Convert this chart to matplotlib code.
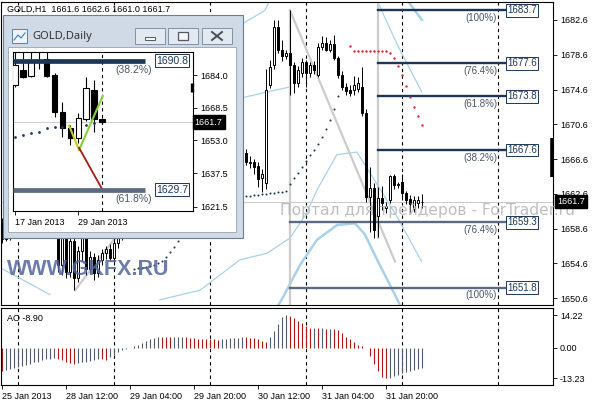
import matplotlib
matplotlib.use("Agg")
import matplotlib.pyplot as plt
from matplotlib.patches import Rectangle
from matplotlib.lines import Line2D
import numpy as np

W, H = 596, 400

# GOLD H1 bars, bar 0 = 25 Jan 2013 20:00
h1_open = [1659.2, 1657.4, 1658.0, 1658.7, 1658.9, 1659.6, 1659.2, 1659.5, 1658.9, 1659.3,
           1658.6, 1658.8, 1658.3, 1658.5, 1658.1, 1654.4, 1657.8, 1653.6, 1657.2, 1652.9,
           1656.0, 1658.0, 1654.0, 1655.3, 1653.5, 1655.0, 1655.8, 1656.2, 1655.2, 1656.9,
           1658.2, 1658.7, 1659.2, 1660.0, 1659.6, 1660.7, 1661.4, 1661.0, 1662.1, 1663.0,
           1663.6, 1663.1, 1662.8, 1663.5, 1664.6, 1665.2, 1664.8, 1664.1, 1663.7, 1664.2,
           1663.9, 1663.4, 1663.6, 1664.7, 1665.8, 1666.4, 1667.1, 1667.8, 1668.3, 1668.0,
           1667.5, 1667.3, 1666.3, 1666.2, 1665.8, 1664.4, 1663.8, 1675.1, 1677.4, 1681.8,
           1679.1, 1678.4, 1678.8, 1677.4, 1675.3, 1676.5, 1677.8, 1676.5, 1677.4, 1676.3,
           1679.5, 1679.9, 1679.2, 1679.8, 1678.2, 1676.3, 1674.9, 1674.6, 1674.5, 1674.7,
           1674.9, 1671.9, 1662.2, 1663.3, 1660.0, 1662.1, 1661.0, 1661.9, 1664.6, 1663.6,
           1664.0, 1662.7, 1662.0, 1660.9, 1661.5, 1661.6]
h1_high = [1659.8, 1658.6, 1659.0, 1659.5, 1660.3, 1660.1, 1659.9, 1660.0, 1659.6, 1659.8,
           1659.2, 1659.4, 1658.9, 1658.8, 1658.6, 1658.2, 1658.1, 1657.9, 1657.9, 1656.6,
           1658.4, 1658.3, 1656.0, 1655.8, 1655.6, 1656.3, 1656.6, 1656.8, 1657.6, 1658.6,
           1659.0, 1659.6, 1660.4, 1660.8, 1661.0, 1661.9, 1662.2, 1662.5, 1663.4, 1664.1,
           1664.4, 1664.0, 1663.9, 1665.0, 1665.8, 1666.0, 1665.4, 1664.9, 1664.6, 1665.1,
           1664.5, 1664.3, 1665.0, 1666.1, 1667.0, 1667.5, 1668.4, 1668.9, 1669.4, 1669.0,
           1668.4, 1667.8, 1666.9, 1666.6, 1666.2, 1665.4, 1677.0, 1678.0, 1682.6, 1682.6,
           1680.3, 1679.2, 1683.7, 1677.8, 1677.3, 1678.2, 1678.0, 1677.8, 1677.9, 1679.9,
           1680.7, 1680.6, 1680.3, 1680.9, 1678.5, 1676.7, 1675.3, 1675.1, 1676.1, 1676.0,
           1677.2, 1672.3, 1665.7, 1663.8, 1663.4, 1663.5, 1661.6, 1664.8, 1664.9, 1663.9,
           1664.9, 1662.9, 1662.5, 1662.3, 1662.4, 1662.6]
h1_low = [1656.9, 1657.2, 1657.3, 1658.1, 1658.4, 1658.8, 1658.6, 1658.7, 1658.2, 1658.4,
          1657.9, 1658.1, 1657.7, 1657.8, 1653.6, 1653.2, 1652.9, 1653.0, 1651.5, 1652.4,
          1654.9, 1653.2, 1653.5, 1652.7, 1653.0, 1654.4, 1655.1, 1655.0, 1654.8, 1656.4,
          1657.3, 1658.0, 1658.8, 1659.1, 1659.2, 1660.1, 1660.6, 1660.7, 1661.6, 1662.3,
          1662.7, 1662.4, 1662.2, 1663.0, 1664.0, 1664.3, 1663.8, 1663.3, 1663.0, 1663.6,
          1662.9, 1662.8, 1663.2, 1664.2, 1665.1, 1665.7, 1666.5, 1667.0, 1667.6, 1667.2,
          1666.8, 1665.9, 1665.6, 1664.9, 1663.4, 1662.8, 1663.2, 1674.8, 1677.0, 1678.8,
          1677.9, 1678.1, 1674.0, 1674.2, 1674.9, 1676.0, 1674.9, 1676.0, 1676.4, 1676.0,
          1679.1, 1679.0, 1678.9, 1678.0, 1675.9, 1674.6, 1674.0, 1673.8, 1674.0, 1674.3,
          1671.5, 1661.6, 1658.2, 1657.5, 1657.6, 1660.7, 1660.4, 1661.5, 1663.2, 1663.3,
          1661.9, 1661.4, 1660.5, 1660.5, 1661.0, 1661.0]
h1_close = [1657.4, 1658.0, 1658.7, 1658.9, 1659.6, 1659.2, 1659.5, 1658.9, 1659.3, 1658.6,
            1658.8, 1658.3, 1658.5, 1658.1, 1654.4, 1657.8, 1653.6, 1657.2, 1652.9, 1656.0,
            1658.0, 1654.0, 1655.3, 1653.5, 1655.0, 1655.8, 1656.2, 1655.2, 1656.9, 1658.2,
            1658.7, 1659.2, 1660.0, 1659.6, 1660.7, 1661.4, 1661.0, 1662.1, 1663.0, 1663.6,
            1663.1, 1662.8, 1663.5, 1664.6, 1665.2, 1664.8, 1664.1, 1663.7, 1664.2, 1663.9,
            1663.4, 1663.6, 1664.7, 1665.8, 1666.4, 1667.1, 1667.8, 1668.3, 1668.0, 1667.5,
            1667.1, 1666.3, 1666.1, 1665.7, 1664.3, 1664.9, 1674.6, 1677.2, 1681.8, 1679.1,
            1678.4, 1678.8, 1677.4, 1675.3, 1676.8, 1677.8, 1676.5, 1677.4, 1676.8, 1679.5,
            1679.9, 1679.2, 1679.8, 1678.2, 1676.3, 1674.9, 1674.4, 1674.2, 1675.1, 1675.4,
            1671.9, 1662.2, 1663.3, 1658.4, 1662.1, 1661.5, 1661.2, 1664.6, 1663.6, 1663.7,
            1662.7, 1661.9, 1661.4, 1661.9, 1661.9, 1661.7]

# Awesome Oscillator, one value per H1 bar
ao_values = [-10.1, -9.7, -9.2, -8.7, -8.2, -7.7, -7.2, -6.8, -6.3, -5.9,
             -5.4, -5.0, -4.6, -4.3, -4.6, -5.2, -5.9, -6.5, -7.0, -6.7,
             -6.3, -5.9, -5.5, -5.2, -4.9, -5.0, -5.1, -4.0, -2.9, -1.9,
             -0.8, -0.3, 0.2, 0.7, 1.4, 2.2, 2.9, 3.9, 4.5, 4.8,
             4.74, 4.72, 4.70, 4.80, 4.90, 4.95, 4.75, 4.45, 4.15, 4.0,
             3.85, 3.80, 3.75, 3.70, 3.65, 3.80, 4.05, 4.20, 4.35, 4.50,
             4.75, 4.70, 4.50, 4.30, 3.85, 3.15, 2.60, 4.70, 7.40, 10.40,
             13.30, 14.22, 14.0, 13.0, 11.8, 10.9, 9.6, 8.8, 8.85, 8.6,
             8.65, 8.4, 8.45, 8.35, 7.9, 6.5, 5.0, 3.9, 2.4, 1.4,
             0.7, 0.05, -3.5, -6.9, -10.0, -12.5, -13.23, -12.9, -12.3, -11.6,
             -10.8, -10.4, -10.0, -9.6, -9.3, -8.9]

# Parabolic SAR dots
sar_low_bars = list(range(33, 45)) + list(range(60, 85))
sar_low_vals = [1654.0, 1654.1, 1654.1, 1654.2, 1654.3, 1654.4, 1654.6, 1654.9, 1655.3, 1655.9,
                1656.5, 1657.2,
                1662.3, 1662.4, 1662.4, 1662.5, 1662.5, 1662.6, 1662.6, 1662.7, 1662.7, 1662.8,
                1662.8, 1662.9, 1663.7, 1664.4, 1665.0, 1665.7, 1666.4, 1667.1, 1667.6, 1668.3,
                1669.1, 1670.1, 1671.1, 1672.4, 1673.9]
sar_high_bars = list(range(87, 106))
sar_high_vals = [1679.6, 1679.0, 1679.0, 1679.0, 1679.0, 1679.0, 1679.0, 1679.0, 1679.0, 1679.0,
                 1678.8, 1678.2, 1677.3, 1676.3, 1675.0, 1673.7, 1672.6, 1671.6, 1670.5]

# band lines (bar, price)
thin_lo_bars = [39.5, 49.5, 59.5, 66.2, 72.0, 76.2, 78.7, 83.7, 88.7, 91.6, 98.7, 104.9]
thin_lo_vals = [1650.4, 1651.5, 1655.0, 1655.75, 1657.5, 1660.4, 1663.0, 1667.1, 1667.4, 1665.3,
                1660.0, 1654.8]
thin_hi_bars = [93.7, 99.0, 104.9]
thin_hi_vals = [1684.9, 1679.6, 1674.35]
thin_mid_bars = [59.5, 72.0]
thin_mid_vals = [1673.6, 1674.9]
thin_top_bars = [59.5, 65.75, 67.0]
thin_top_vals = [1682.0, 1683.7, 1684.9]
thick_lo_bars = [67.0, 70.25, 74.5, 78.75, 83.75, 88.25, 90.75, 94.0, 97.0, 99.5, 102.0]
thick_lo_vals = [1648.1, 1650.7, 1654.4, 1657.3, 1659.0, 1659.2, 1657.9, 1654.8, 1652.1, 1649.8, 1648.1]
thick_hi_bars = [101.25, 105.0]
thick_hi_vals = [1684.9, 1682.6]
left_band_bars = [-0.5, 12.0]
left_band_vals = [1654.1, 1651.0]

# Fibonacci retracements
fib_hi_bar, fib_lo_bar, fib_end_bar = 72, 94, 125.9
fib_upper_levels = [1683.7, 1677.6, 1673.8, 1667.6]
fib_upper_pcts = ["(100%)", "(76.4%)", "(61.8%)", "(38.2%)"]
fib_lower_levels = [1659.3, 1651.8]
fib_lower_pcts = ["(76.4%)", "(100%)"]
trend1 = ([18.25, 45.0], [1651.5, 1667.5])
trend2 = ([72.0, 98.25], [1683.7, 1654.8])

main_ticks = [1682.6, 1678.6, 1674.6, 1670.6, 1666.6, 1662.6, 1658.6, 1654.6, 1650.6]
day_sep_bars = [4, 28, 52, 76, 100, 124]
date_tick_bars = [0, 16, 32, 48, 64, 80, 96]
date_labels = ["25 Jan 2013", "28 Jan 12:00", "29 Jan 04:00", "29 Jan 20:00",
               "30 Jan 12:00", "31 Jan 04:00", "31 Jan 20:00"]
ao_ticks = [14.22, 0.0, -13.23]

# GOLD Daily (inset), k = 0 is 17 Jan 2013
d1_open = [1679.3, 1686.4, 1683.5, 1691.3, 1691.6, 1684.0, 1666.5, 1658.9, 1654.2, 1663.2, 1676.9, 1663.2]
d1_high = [1697.0, 1697.0, 1697.0, 1697.0, 1697.0, 1685.0, 1671.2, 1660.3, 1666.0, 1683.0, 1681.6, 1663.6]
d1_low = [1678.5, 1682.5, 1683.0, 1687.0, 1683.0, 1664.0, 1654.6, 1650.9, 1651.8, 1662.0, 1657.0, 1661.0]
d1_close = [1688.7, 1683.1, 1691.1, 1690.9, 1683.5, 1666.5, 1658.9, 1654.2, 1663.6, 1677.8, 1663.2, 1661.7]
d1_sar_bars = [0, 1, 2, 3, 4, 5, 6, 9, 10]
d1_sar_vals = [1654.8, 1655.6, 1656.4, 1657.2, 1658.8, 1659.2, 1659.5, 1660.3, 1661.1]
d1_ticks = [1684.0, 1668.5, 1653.0, 1637.5, 1621.5]
d1_date_bars = [0, 8]
d1_date_labels = ["17 Jan 2013", "29 Jan 2013"]
d1_levels = [1690.8, 1629.7]
d1_pcts = ["(38.2%)", "(61.8%)"]
green_a = ([6.85, 8.1], [1659.9, 1648.5])
green_b = ([8.1, 11.1], [1648.5, 1674.1])
red_line = ([8.1, 11.05], [1649.5, 1629.7])

last_price = h1_close[-1]
NAVY = "#1d3656"
SLATE = "#5b6a80"
LBLUE = "#a9d2ea"
plt.rcParams["font.family"] = ["Liberation Sans", "DejaVu Sans"]


def draw_candles(ax, xs, o, h, l, c, width, lw):
    for x, oo, hh, ll, cc in zip(xs, o, h, l, c):
        ax.plot([x, x], [ll, hh], color="black", lw=lw, zorder=3, solid_capstyle="butt")
        lo, hi = min(oo, cc), max(oo, cc)
        face = "white" if cc > oo else "black"
        ax.add_patch(Rectangle((x - width / 2, lo), width, max(hi - lo, 0.08),
                               fc=face, ec="black", lw=lw, zorder=4))


def style_axes(ax):
    for s in ax.spines.values():
        s.set_color("black")
        s.set_linewidth(0.8)
    ax.tick_params(axis="y", which="both", right=True, left=False, labelright=True,
                   labelleft=False, length=3, width=0.6, pad=2, labelsize=6.5)


fig = plt.figure(figsize=(W / 100, H / 100), dpi=100)
fig.patch.set_facecolor("white")

# MAIN H1 PANEL
ax = fig.add_axes([1 / W, 1 - 305 / H, 552 / W, 303 / H])
ax.set_xlim(-0.25, 137.75)
ax.set_ylim(1649.8, 1684.67)
style_axes(ax)
ax.set_xticks([])
ax.set_yticks(main_ticks)
ax.set_yticklabels([f"{t:.1f}" for t in main_ticks])

bars = np.arange(len(h1_open))
for b in day_sep_bars:
    ax.axvline(b, color="black", lw=0.8, ls=(0, (3, 3)), zorder=1)

for bx, by in [(thin_lo_bars, thin_lo_vals), (thin_hi_bars, thin_hi_vals),
               (thin_mid_bars, thin_mid_vals), (left_band_bars, left_band_vals),
               (thin_top_bars, thin_top_vals)]:
    ax.plot(bx, by, color=LBLUE, lw=0.9, zorder=1.5)
for bx, by in [(thick_lo_bars, thick_lo_vals), (thick_hi_bars, thick_hi_vals)]:
    ax.plot(bx, by, color=LBLUE, lw=1.8, zorder=1.5)

ax.plot(*trend1, color="#cccccc", lw=1.6, zorder=1.6)
ax.plot(*trend2, color="#cccccc", lw=1.6, zorder=1.6)
ax.plot([fib_hi_bar, fib_hi_bar], [fib_upper_levels[0], 1649.8], color="#cccccc", lw=1.6, zorder=1.6)
ax.plot([fib_lo_bar, fib_lo_bar], [1684.67, 1657.5], color="#cccccc", lw=1.6, zorder=1.6)

ax.axhline(last_price, color="#c0c0c0", lw=0.6, zorder=1.4)

for levels, pcts, col, start in ((fib_upper_levels, fib_upper_pcts, NAVY, fib_lo_bar),
                                 (fib_lower_levels, fib_lower_pcts, SLATE, fib_hi_bar)):
    for lev, pct in zip(levels, pcts):
        ax.plot([start, fib_end_bar], [lev, lev], color=col, lw=1.7, zorder=2)
        ax.text(fib_end_bar + 0.35, lev, f"{lev:.1f}", fontsize=7, color=NAVY, va="center",
                ha="left", zorder=6,
                bbox=dict(boxstyle="square,pad=0.12", fc="white", ec=NAVY, lw=0.7))
        ax.annotate(pct, (123.75, lev), xytext=(0, -5.6), textcoords="offset points",
                    fontsize=7, color="#4a5566", ha="right", va="center", zorder=6)

draw_candles(ax, bars, h1_open, h1_high, h1_low, h1_close, 0.62, 0.7)

ax.scatter(sar_low_bars, sar_low_vals, s=2.2, color="#1f3a60", zorder=5, lw=0)
ax.scatter(sar_high_bars, sar_high_vals, s=3.0, color="#d42a2a", zorder=5, lw=0)

# right edge marker and current price box
ax.plot([137.6, 137.6], [1664.5, 1669.0], color="black", lw=2.6, zorder=6, clip_on=False,
        solid_capstyle="butt")
ax.text(1.008, last_price, f"{last_price:.1f}", transform=ax.get_yaxis_transform(),
        fontsize=6.5, color="white", va="center", ha="left", zorder=8, clip_on=False,
        bbox=dict(boxstyle="square,pad=0.25", fc="black", ec="black"))

ax.text(0.011, 0.977, "GOLD,H1  1661.6 1662.6 1661.0 1661.7", transform=ax.transAxes,
        fontsize=6.5, color="black", va="center", ha="left", zorder=6)
ax.text(0.506, 0.311, "Портал для трейдеров - ForTrader.ru", transform=ax.transAxes,
        fontsize=11.2, color="#b4b4b4", alpha=0.85, va="center", ha="left", zorder=7,
        clip_on=False, family=["DejaVu Sans"])
ax.text(0.011, 0.117, "WWW.GKFX.RU", transform=ax.transAxes, fontsize=15.5, fontweight="bold",
        color="#52669a", alpha=0.85, va="center", ha="left", zorder=7)

# AO PANEL
ax2 = fig.add_axes([1 / W, 1 - 385 / H, 552 / W, 77 / H])
ax2.set_xlim(-0.25, 137.75)
ax2.set_ylim(-16.1, 17.4)
style_axes(ax2)
ax2.set_yticks(ao_ticks)
ax2.set_yticklabels([f"{t:.2f}" for t in ao_ticks])
ax2.set_xticks(date_tick_bars)
ax2.set_xticklabels(date_labels)
ax2.tick_params(axis="x", length=3, width=0.6, pad=2, labelsize=6.5)
for t in ax2.get_xticklabels():
    t.set_ha("left")
for b in day_sep_bars:
    ax2.axvline(b, color="black", lw=0.8, ls=(0, (3, 3)), zorder=1)
ao_colors = ["#b01818"] + ["#4e5c6c" if ao_values[i] > ao_values[i - 1] else "#b01818"
                           for i in range(1, len(ao_values))]
ax2.vlines(bars, 0, ao_values, colors=ao_colors, lw=0.8, zorder=2)
ax2.text(0.011, 0.86, f"AO {ao_values[-1]:.2f}", transform=ax2.transAxes, fontsize=6.5,
         va="center", ha="left")


# DAILY WINDOW (inset)
def fig_rect(x0, y0, x1, y1, z, **kw):
    r = Rectangle((x0 / W, 1 - y1 / H), (x1 - x0) / W, (y1 - y0) / H,
                  transform=fig.transFigure, zorder=z, **kw)
    fig.add_artist(r)
    return r


fig_rect(3, 15, 243, 238, 5, fc="#cfdae6", ec="#6c7e94", lw=0.8)
fig_rect(8, 47, 236, 232, 6, fc="white", ec="#95a4b6", lw=0.6)
fig_rect(12, 29, 27, 43, 6, fc="#eef3f8", ec="#5b7fa8", lw=0.7)
fig.add_artist(Line2D([14 / W, 18 / W, 21 / W, 25 / W], [1 - 40 / H, 1 - 35 / H, 1 - 38 / H, 1 - 33 / H],
                      transform=fig.transFigure, color="#3f78b5", lw=0.8, zorder=7))
fig.text(32 / W, 1 - 36 / H, "GOLD,Daily", fontsize=8, color="#333333", va="center", ha="left",
         family=["Noto Sans", "DejaVu Sans"], zorder=7)
for bx0 in (135, 168, 202):
    fig_rect(bx0, 28, bx0 + 30, 44, 6, fc="#e3e9f0", ec="#8090a6", lw=0.7)
fig_rect(145, 37, 155, 40, 7, fc="#f4f6f8", ec="#505a66", lw=0.7)
fig_rect(178, 32, 188, 40, 7, fc="#f4f6f8", ec="#505a66", lw=0.9)
for xs, ys in (((212, 222), (32, 40)), ((212, 222), (40, 32))):
    fig.add_artist(Line2D([xs[0] / W, xs[1] / W], [1 - ys[0] / H, 1 - ys[1] / H],
                          transform=fig.transFigure, color="#4a4f58", lw=1.4, zorder=7))

ax3 = fig.add_axes([13 / W, 1 - 211 / H, 180 / W, 159 / H])
ax3.set_zorder(8)
ax3.set_facecolor("white")
ax3.set_xlim(-0.25, 22.5)
ax3.set_ylim(1619.6, 1694.9)
style_axes(ax3)
ax3.set_yticks(d1_ticks)
ax3.set_yticklabels([f"{t:.1f}" for t in d1_ticks])
ax3.set_xticks(d1_date_bars)
ax3.set_xticklabels(d1_date_labels)
ax3.tick_params(axis="x", length=3, width=0.6, pad=2, labelsize=6.5)
for t in ax3.get_xticklabels():
    t.set_ha("left")

kd = np.arange(len(d1_open))
ax3.axhline(last_price, color="#c4c4c4", lw=0.6, zorder=1)
ax3.axvline(11, color="black", lw=0.8, ls=(0, (3, 3)), zorder=1)
draw_candles(ax3, kd, d1_open, d1_high, d1_low, d1_close, 0.7, 0.8)
ax3.scatter(d1_sar_bars, d1_sar_vals, s=4, color="#1f3a60", zorder=5, lw=0)
ax3.plot(*green_a, color="#c3cf1e", lw=1.5, zorder=6)
ax3.plot(*green_b, color="#86d03a", lw=1.5, zorder=6)
ax3.plot(*red_line, color="#a81a14", lw=1.3, zorder=6)
for lev, pct, col in zip(d1_levels, d1_pcts, (NAVY, SLATE)):
    ax3.plot([-0.25, 16.46], [lev, lev], color=col, lw=3.4, zorder=6, solid_capstyle="butt")
    ax3.text(17.85, lev, f"{lev:.1f}", fontsize=7.5, color=NAVY, va="center", ha="left", zorder=7,
             bbox=dict(boxstyle="square,pad=0.12", fc="white", ec=NAVY, lw=0.7))
    ax3.annotate(pct, (17.34, lev), xytext=(0, -6.5), textcoords="offset points",
                 fontsize=7.5, color="#4a5566", ha="right", va="center", zorder=7)
ax3.plot([22.4, 22.4], [1676.0, 1680.2], color="black", lw=2.4, zorder=7, clip_on=False,
         solid_capstyle="butt")
ax3.text(1.01, last_price, f"{last_price:.1f}", transform=ax3.get_yaxis_transform(),
         fontsize=6.5, color="white", va="center", ha="left", zorder=8, clip_on=False,
         bbox=dict(boxstyle="square,pad=0.25", fc="black", ec="black"))

fig.savefig("out.png", dpi=100)
